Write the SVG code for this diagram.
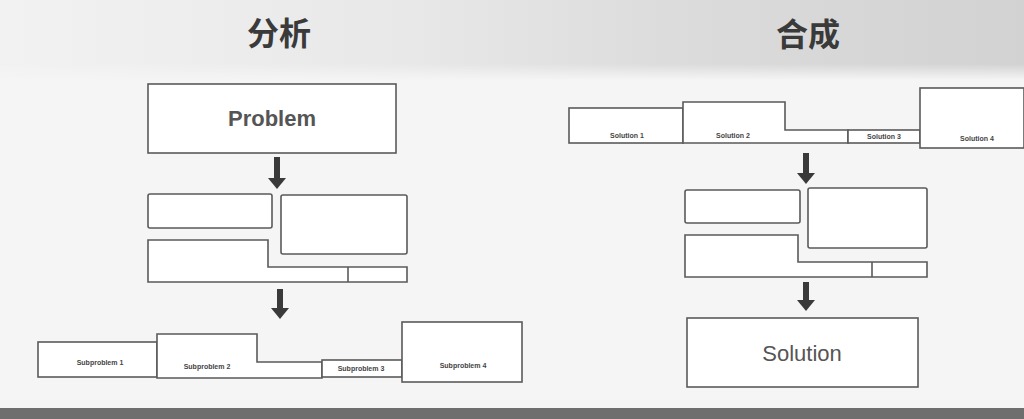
<svg xmlns="http://www.w3.org/2000/svg" width="1024" height="419" viewBox="0 0 1024 419">
<style>
.box{fill:#ffffff;stroke:#5a5a5a;stroke-width:1.6}
.title{font-family:"Noto Sans CJK SC","Noto Sans CJK JP",sans-serif;font-size:32px;font-weight:bold;fill:#3a3a3a;text-anchor:middle}
.big{font-family:"Liberation Sans",Arial,sans-serif;font-size:22px;fill:#555;text-anchor:middle}
.small{font-family:"Liberation Sans",Arial,sans-serif;font-size:7px;font-weight:bold;fill:#444;text-anchor:middle}
.conn{stroke:#3a3a3a;stroke-width:6;fill:none;marker-end:url(#ah)}
</style>
<defs>
<marker id="ah" markerUnits="userSpaceOnUse" markerWidth="11" markerHeight="18" refX="0" refY="9" orient="auto">
<path d="M0,0 L11,9 L0,18 z" fill="#3a3a3a"/>
</marker>
<linearGradient id="tg" x1="0" y1="0" x2="1" y2="0">
<stop offset="0" stop-color="#f2f2f2"/>
<stop offset="0.4" stop-color="#e8e8e8"/>
<stop offset="0.65" stop-color="#dcdcdc"/>
<stop offset="1" stop-color="#d2d2d2"/>
</linearGradient>
<linearGradient id="fade" x1="0" y1="0" x2="0" y2="1">
<stop offset="0" stop-color="#fff" stop-opacity="1"/>
<stop offset="0.8" stop-color="#fff" stop-opacity="1"/>
<stop offset="1" stop-color="#fff" stop-opacity="0"/>
</linearGradient>
<mask id="bandmask"><rect x="0" y="0" width="1024" height="80" fill="url(#fade)"/></mask>
</defs>
<rect x="0" y="0" width="1024" height="419" fill="#f5f5f5"/>
<rect x="0" y="0" width="1024" height="80" fill="url(#tg)" mask="url(#bandmask)"/>
<rect x="0" y="408" width="1024" height="11" fill="#6e6e6e"/>

<g id="title-analysis"><text class="title" x="279" y="45">分析</text></g>
<g id="title-synthesis"><text class="title" x="808" y="46">合成</text></g>

<g id="problem">
<rect class="box" x="148" y="84" width="248" height="69"/>
<text class="big" x="272" y="126" font-weight="bold">Problem</text>
</g>

<g id="left-pieces">
<rect class="box" x="148" y="194" width="124" height="34" rx="2"/>
<rect class="box" x="281" y="195" width="126" height="59" rx="2"/>
<path class="box" d="M148,240 H268 V267 H407 V282 H148 Z"/>
<line x1="348" y1="267" x2="348" y2="282" stroke="#5a5a5a" stroke-width="1.6"/>
</g>

<g id="subproblem1">
<rect class="box" x="38" y="342" width="119" height="35"/>
<text class="small" x="100" y="365">Subproblem 1</text>
</g>
<g id="subproblem2">
<path class="box" d="M157,334 H257 V362 H322 V378 H157 Z"/>
<text class="small" x="207" y="369">Subproblem 2</text>
</g>
<g id="subproblem3">
<rect class="box" x="322" y="360" width="80" height="17"/>
<text class="small" x="361" y="371">Subproblem 3</text>
</g>
<g id="subproblem4">
<rect class="box" x="402" y="322" width="120" height="60"/>
<text class="small" x="463" y="368">Subproblem 4</text>
</g>

<g id="solution1">
<rect class="box" x="569" y="108" width="114" height="35"/>
<text class="small" x="627" y="138">Solution 1</text>
</g>
<g id="solution2">
<path class="box" d="M683,102 H785 V130 H848 V143 H683 Z"/>
<text class="small" x="733" y="138">Solution 2</text>
</g>
<g id="solution3">
<rect class="box" x="848" y="130" width="72" height="13"/>
<text class="small" x="884" y="139">Solution 3</text>
</g>
<g id="solution4">
<rect class="box" x="920" y="88" width="104" height="60"/>
<text class="small" x="977" y="141">Solution 4</text>
</g>

<g id="right-pieces">
<rect class="box" x="685" y="190" width="115" height="33" rx="2"/>
<rect class="box" x="808" y="188" width="119" height="60" rx="2"/>
<path class="box" d="M685,235 H798 V262 H927 V277 H685 Z"/>
<line x1="872" y1="262" x2="872" y2="277" stroke="#5a5a5a" stroke-width="1.6"/>
</g>

<g id="solution">
<rect class="box" x="687" y="318" width="231" height="69"/>
<text class="big" x="802" y="361">Solution</text>
</g>

<g id="connectors">
<line class="conn" x1="277" y1="157" x2="277" y2="178"/>
<line class="conn" x1="280" y1="289" x2="280" y2="308"/>
<line class="conn" x1="806" y1="153" x2="806" y2="173"/>
<line class="conn" x1="806" y1="282" x2="806" y2="300"/>
</g>
</svg>
